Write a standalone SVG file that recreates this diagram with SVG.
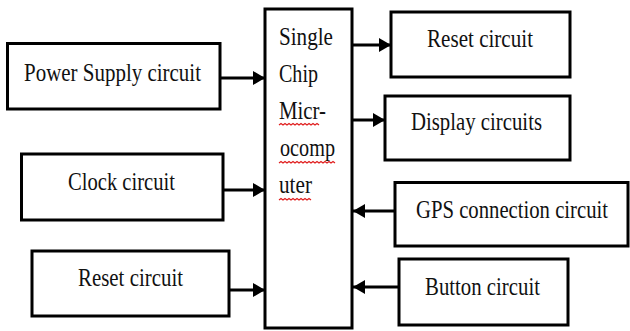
<svg xmlns="http://www.w3.org/2000/svg" width="630" height="331" viewBox="0 0 630 331">
<defs>
<style>
.box{fill:#fff;stroke:#000;stroke-width:3}
.t{font-family:"Liberation Serif","Times New Roman",serif;font-size:26px;fill:#111}
.c{stroke:#000;stroke-width:3;fill:none}
.sq{stroke:#e02020;stroke-width:1.2;fill:none}
</style>
<marker id="ah" markerUnits="userSpaceOnUse" markerWidth="13" markerHeight="15" refX="12" refY="7" orient="auto">
<path d="M0,0 L12,7 L0,14 z" fill="#000"/>
</marker>
</defs>
<rect width="630" height="331" fill="#fff"/>
<g id="connectors">
<line class="c" x1="220" y1="78" x2="265" y2="78" marker-end="url(#ah)"/>
<line class="c" x1="223" y1="190" x2="265" y2="190" marker-end="url(#ah)"/>
<line class="c" x1="229" y1="290" x2="265" y2="290" marker-end="url(#ah)"/>
<line class="c" x1="352" y1="45" x2="391" y2="45" marker-end="url(#ah)"/>
<line class="c" x1="352" y1="120" x2="385" y2="120" marker-end="url(#ah)"/>
<line class="c" x1="395" y1="211" x2="353" y2="211" marker-end="url(#ah)"/>
<line class="c" x1="399" y1="287" x2="353" y2="287" marker-end="url(#ah)"/>
</g>
<g id="mcu">
<rect class="box" x="265" y="9" width="87" height="319"/>
<text class="t" transform="translate(279,45) scale(0.8,1)" textLength="67.5" lengthAdjust="spacingAndGlyphs">Single</text>
<text class="t" transform="translate(279,82) scale(0.8,1)" textLength="48.75" lengthAdjust="spacingAndGlyphs">Chip</text>
<text class="t" transform="translate(279,119) scale(0.8,1)" textLength="58.75" lengthAdjust="spacingAndGlyphs">Micr-</text>
<text class="t" transform="translate(280,156) scale(0.8,1)" textLength="68.75" lengthAdjust="spacingAndGlyphs">ocomp</text>
<text class="t" transform="translate(279,193) scale(0.8,1)" textLength="41.25" lengthAdjust="spacingAndGlyphs">uter</text>
<path class="sq" d="M279,125 l2,-1.5 l2,1.5 l2,-1.5 l2,1.5 l2,-1.5 l2,1.5 l2,-1.5 l2,1.5 l2,-1.5 l2,1.5 l2,-1.5 l2,1.5 l2,-1.5 l2,1.5 l2,-1.5 l2,1.5 l2,-1.5 l2,1.5 l2,-1.5 l2,1.5"/>
<path class="sq" d="M279,163 l2,-1.5 l2,1.5 l2,-1.5 l2,1.5 l2,-1.5 l2,1.5 l2,-1.5 l2,1.5 l2,-1.5 l2,1.5 l2,-1.5 l2,1.5 l2,-1.5 l2,1.5 l2,-1.5 l2,1.5 l2,-1.5 l2,1.5 l2,-1.5 l2,1.5 l2,-1.5 l2,1.5 l2,-1.5 l2,1.5 l2,-1.5 l2,1.5 l2,-1.5 l2,1.5"/>
<path class="sq" d="M279,200 l2,-1.5 l2,1.5 l2,-1.5 l2,1.5 l2,-1.5 l2,1.5 l2,-1.5 l2,1.5 l2,-1.5 l2,1.5 l2,-1.5 l2,1.5 l2,-1.5 l2,1.5 l2,-1.5 l2,1.5"/>
</g>
<g id="power">
<rect class="box" x="7.5" y="43.5" width="212.5" height="65.5"/>
<text class="t" transform="translate(24,81) scale(0.8,1)" textLength="221.25" lengthAdjust="spacingAndGlyphs">Power Supply circuit</text>
</g>
<g id="clock">
<rect class="box" x="21.5" y="154" width="201.5" height="66"/>
<text class="t" transform="translate(68,190) scale(0.8,1)" textLength="133.75" lengthAdjust="spacingAndGlyphs">Clock circuit</text>
</g>
<g id="reset-left">
<rect class="box" x="32" y="251" width="197" height="65"/>
<text class="t" transform="translate(78,286) scale(0.8,1)" textLength="131.25" lengthAdjust="spacingAndGlyphs">Reset circuit</text>
</g>
<g id="reset-right">
<rect class="box" x="391" y="12" width="179" height="65"/>
<text class="t" transform="translate(427,47) scale(0.8,1)" textLength="132.5" lengthAdjust="spacingAndGlyphs">Reset circuit</text>
</g>
<g id="display">
<rect class="box" x="385" y="96" width="185" height="64"/>
<text class="t" transform="translate(411,130) scale(0.8,1)" textLength="163.75" lengthAdjust="spacingAndGlyphs">Display circuits</text>
</g>
<g id="gps">
<rect class="box" x="395" y="182.5" width="233" height="63.5"/>
<text class="t" transform="translate(416,218) scale(0.8,1)" textLength="240" lengthAdjust="spacingAndGlyphs">GPS connection circuit</text>
</g>
<g id="button">
<rect class="box" x="399" y="259" width="169" height="66"/>
<text class="t" transform="translate(425,295) scale(0.8,1)" textLength="143.75" lengthAdjust="spacingAndGlyphs">Button circuit</text>
</g>
</svg>
